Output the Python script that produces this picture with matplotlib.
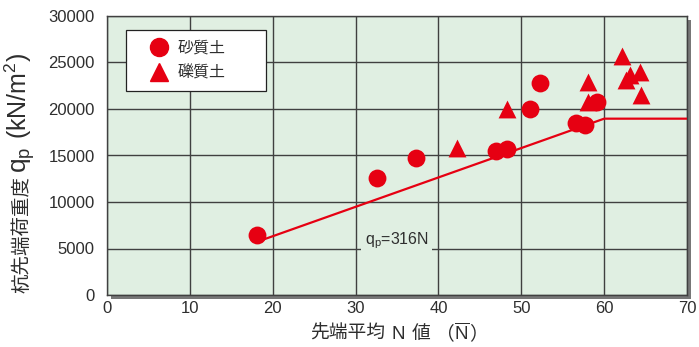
import matplotlib
matplotlib.use("Agg")
import matplotlib.pyplot as plt
import matplotlib.patheffects as pe
from matplotlib.lines import Line2D

plt.rcParams['font.family'] = ['Liberation Sans', 'Noto Sans CJK JP', 'DejaVu Sans']
plt.rcParams['mathtext.fontset'] = 'custom'
plt.rcParams['mathtext.rm'] = 'Liberation Sans'
plt.rcParams['mathtext.it'] = 'Liberation Sans'
plt.rcParams['mathtext.default'] = 'rm'

# 砂質土 (sandy soil)
sand_n = [18.1, 32.6, 37.3, 47.0, 48.3, 51.1, 52.2, 56.6, 57.7, 59.1]
sand_q = [6450, 12600, 14700, 15500, 15700, 20050, 22800, 18500, 18300, 20700]

# 礫質土 (gravelly soil)
gravel_n = [42.2, 48.3, 58.1, 58.0, 62.1, 62.6, 63.1, 64.3, 64.5]
gravel_q = [15800, 20000, 22900, 20700, 25700, 23100, 23700, 24000, 21500]

# design line qp = 316 N, capped at N = 60
line_n = [18, 60, 70]
coef = 316
line_q = [coef * line_n[0], coef * line_n[1], coef * line_n[1]]

xticks = [0, 10, 20, 30, 40, 50, 60, 70]
yticks = [0, 5000, 10000, 15000, 20000, 25000, 30000]

red = '#e60012'
txt = '#2e2e2e'
CJK = 'Noto Sans CJK JP'
W, H = 699, 347
fig = plt.figure(figsize=(W / 100, H / 100), dpi=100)
ax = fig.add_axes([107 / W, 1 - 295 / H, 580 / W, 279 / H])
ax.set_facecolor('#e0efe2')
ax.patch.set_path_effects([pe.SimplePatchShadow(offset=(3, -3), shadow_rgbFace='#555555', alpha=0.8),
                           pe.Normal()])

ax.set_xlim(0, 70)
ax.set_ylim(0, 30000)
ax.set_xticks(xticks)
ax.set_yticks(yticks)
ax.grid(True, color='#404040', linewidth=1.0)
ax.set_axisbelow(True)
ax.tick_params(length=0, labelsize=12, colors=txt)
ax.tick_params(axis='y', pad=9)
ax.tick_params(axis='x', pad=4)
for s in ax.spines.values():
    s.set_color('#404040')
    s.set_linewidth(1.0)

ax.plot(line_n, line_q, color=red, linewidth=1.6, zorder=3)
ax.scatter(sand_n, sand_q, s=165, marker='o', color=red, zorder=4, linewidths=0)
ax.scatter(gravel_n, gravel_q, s=165, marker='^', color=red, zorder=4, linewidths=0)

ax.text(31.1, 5500, '$q_p$=316N', fontsize=11.5, color=txt, va='baseline',
        bbox=dict(facecolor='#e0efe2', edgecolor='none', pad=2.5), zorder=3)

handles = [Line2D([], [], marker='o', linestyle='none', color=red, markersize=13),
           Line2D([], [], marker='^', linestyle='none', color=red, markersize=13)]
leg = ax.legend(handles, ['砂質土', '礫質土'], loc='upper left',
                bbox_to_anchor=(19 / 580, (295 - 91) / 279, 140 / 580, 61 / 279),
                mode='expand', fontsize=11.5, frameon=True,
                fancybox=False, edgecolor='#222222', borderpad=0.65,
                handlelength=2.85, handletextpad=-0.3, labelspacing=0.62,
                borderaxespad=0, framealpha=1)
leg.get_frame().set_linewidth(0.9)
for t in leg.get_texts():
    t.set_color(txt)


def chain(pieces, x0, y0, vertical=False):
    """Lay out text pieces end to end along a common baseline (pixel coords),
    each piece's box starting `gap` pixels after the previous one ends."""
    fig.canvas.draw()
    r = fig.canvas.get_renderer()
    kw = dict(color=txt, va='baseline', ha='left', rotation_mode='anchor',
              rotation=90 if vertical else 0, transform=None)
    pos = 0.0
    out = []
    for s, size, gap, extra in pieces:
        start = pos + gap
        if vertical:
            t = fig.text(x0, H - y0 + start, s, fontsize=size, **kw, **extra)
            bb = t.get_window_extent(r)
            t.set_position((x0, H - y0 + start - (bb.y0 - (H - y0 + start))))
            pos = start + bb.height
        else:
            t = fig.text(x0 + start, H - y0, s, fontsize=size, **kw, **extra)
            bb = t.get_window_extent(r)
            t.set_position((x0 + start - (bb.x0 - (x0 + start)), H - y0))
            pos = start + bb.width
        out.append(t)
    return out, pos


cj = dict(family=CJK)
# x axis label, centred under the plot
xpieces = [('先端平均', 13.5, 0, cj), ('N', 13.5, 6, {}), ('値', 13.5, 7, cj),
           ('（', 13.5, 5, cj), ('$\\overline{N}$', 13.5, 0, {}), ('）', 13.5, -1, cj)]
xt, total = chain(xpieces, 0, 0)
for t in xt:
    x, y = t.get_position()
    t.set_position((x + 399 - total / 2, H - 339))

# y axis label
chain([('杭先端荷重度', 14, 0, cj), ('$q_p$', 19, 3, {}), ('(kN/m$^2$)', 18, 8, {})],
      27, 293, vertical=True)

fig.savefig('out.png', dpi=100)
